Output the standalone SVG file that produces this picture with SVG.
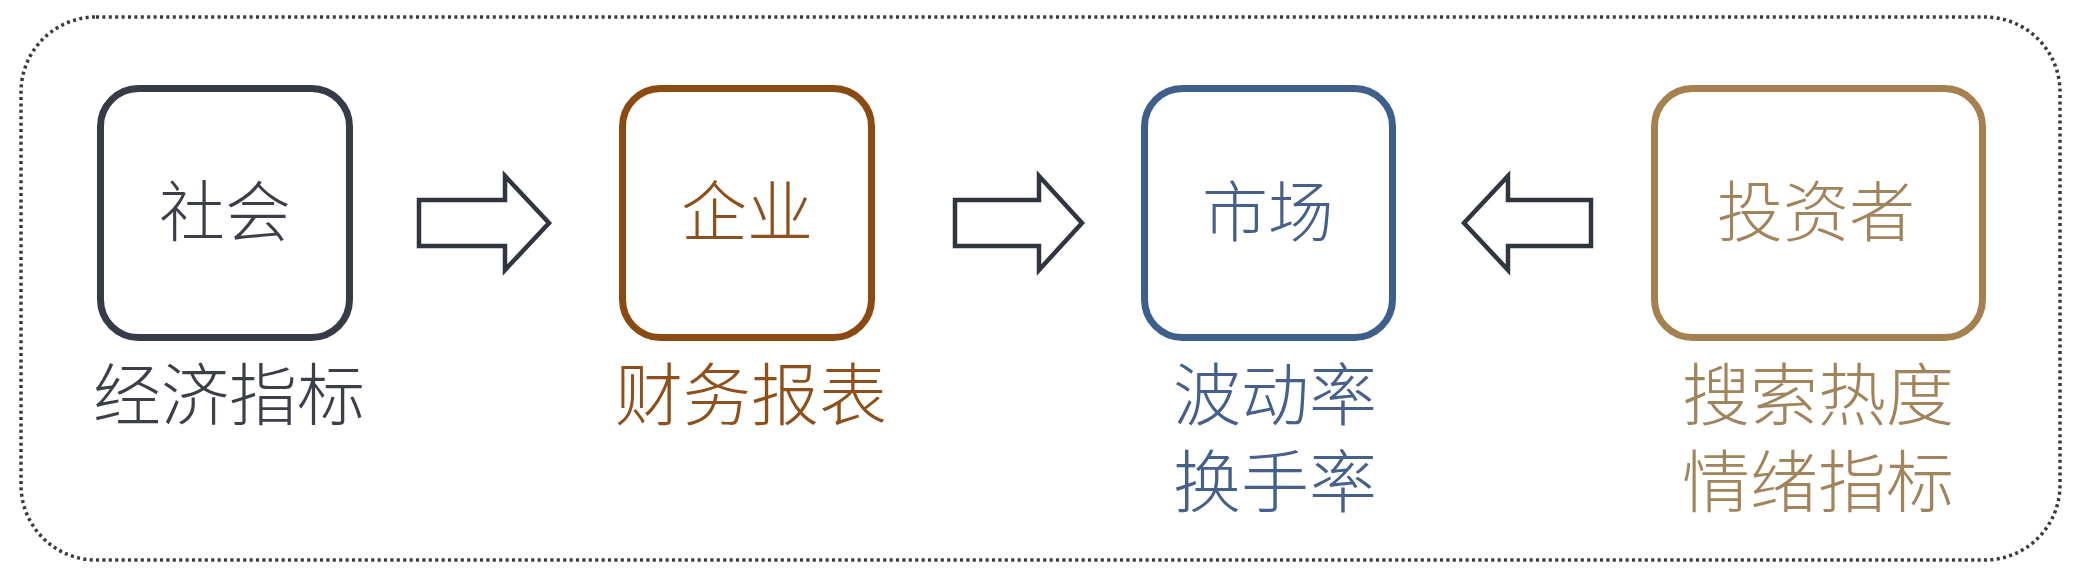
<svg xmlns="http://www.w3.org/2000/svg" width="2078" height="579" viewBox="0 0 2078 579">
<style>
  .frame{fill:none;stroke:#3a3a3a;stroke-width:3.5;stroke-dasharray:3 3.4}
  .box{fill:#ffffff;stroke-width:7}
  .t{font-family:"Noto Sans CJK SC","Noto Sans CJK JP",sans-serif;font-weight:300;text-anchor:middle}
  .bt{font-size:66px}
  .lt{font-size:68px}
  .arrow{fill:#ffffff;stroke:#30353f;stroke-width:4.5;stroke-linejoin:miter}
  .c1{stroke:#363b47}.f1{fill:#3c3f47}
  .c2{stroke:#8b4a12}.f2{fill:#8e4f1a}
  .c3{stroke:#3e5f8c}.f3{fill:#45608a}
  .c4{stroke:#a5814f}.f4{fill:#a2845c}
</style>
<rect width="2078" height="579" fill="#ffffff"/>
<rect class="frame" x="21" y="17" width="2039" height="543" rx="75" ry="75"/>
<g id="node-shehui">
  <rect class="box c1" x="100.5" y="88.5" width="249" height="249" rx="38"/>
  <text class="t bt f1" x="225" y="236">社会</text>
  <text class="t lt f1" x="229" y="420">经济指标</text>
</g>
<g id="node-qiye">
  <rect class="box c2" x="622.5" y="88.5" width="249" height="249" rx="38"/>
  <text class="t bt f2" x="747" y="236">企业</text>
  <text class="t lt f2" x="751" y="420">财务报表</text>
</g>
<g id="node-shichang">
  <rect class="box c3" x="1144.5" y="88.5" width="248" height="249" rx="38"/>
  <text class="t bt f3" x="1268" y="236">市场</text>
  <text class="t lt f3" x="1275" y="420">波动率</text>
  <text class="t lt f3" x="1275" y="507">换手率</text>
</g>
<g id="node-touzizhe">
  <rect class="box c4" x="1654.5" y="88.5" width="328" height="249" rx="38"/>
  <text class="t bt f4" x="1816" y="236">投资者</text>
  <text class="t lt f4" x="1818" y="420">搜索热度</text>
  <text class="t lt f4" x="1818" y="507">情绪指标</text>
</g>
<g id="connectors">
  <polygon class="arrow" points="419,200 505,200 505,176 549,223 505,270 505,246 419,246"/>
  <polygon class="arrow" points="955,200 1039,200 1039,176 1082,223 1039,270 1039,246 955,246"/>
  <polygon class="arrow" points="1591,200 1508,200 1508,176 1464,223 1508,270 1508,246 1591,246"/>
</g>
</svg>
